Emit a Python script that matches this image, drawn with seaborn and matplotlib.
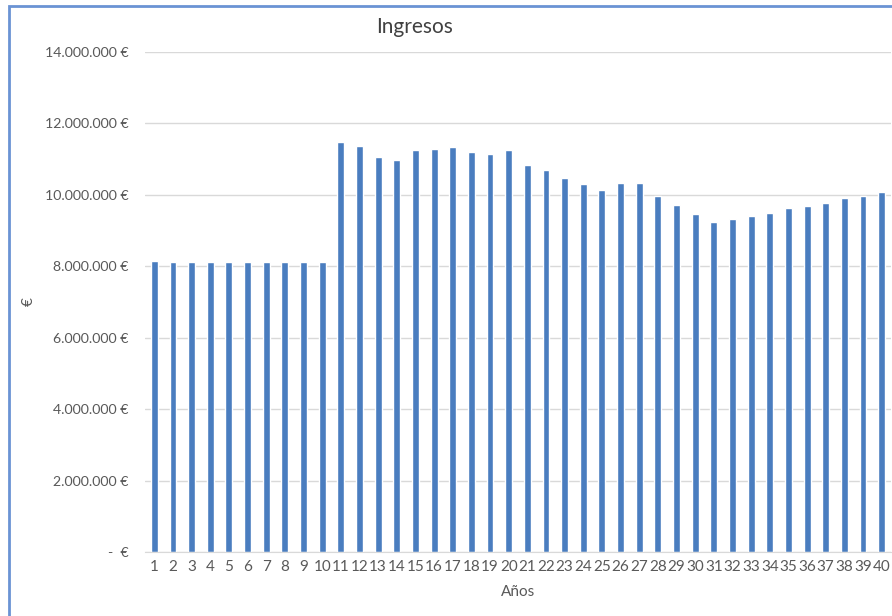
import numpy as np
import pandas as pd
import matplotlib
matplotlib.use('Agg')
import matplotlib.pyplot as plt
import seaborn as sns
from matplotlib.patches import Rectangle
from matplotlib.ticker import FuncFormatter

sns.set_style('white')
plt.rcParams['font.family'] = ['Lato', 'DejaVu Sans']

# data (millions of euros)
years = list(range(1, 41))
ingresos_m = [8.15, 8.12, 8.12, 8.12, 8.12, 8.12, 8.12, 8.12, 8.12, 8.12,
              11.48, 11.37, 11.06, 10.99, 11.25, 11.28, 11.34, 11.20, 11.14, 11.25,
              10.85, 10.70, 10.47, 10.31, 10.13, 10.33, 10.33, 9.98, 9.73, 9.46,
              9.23, 9.32, 9.41, 9.49, 9.62, 9.70, 9.78, 9.90, 9.98, 10.07]
y_ticks = [0, 2e6, 4e6, 6e6, 8e6, 10e6, 12e6, 14e6]

df = pd.DataFrame({'Años': years, 'Ingresos': np.array(ingresos_m) * 1e6})

fig = plt.figure(figsize=(8.92, 6.16), dpi=100)
ax = fig.add_axes([145 / 892, 1 - 552 / 616, 746 / 892, 500 / 616])

sns.barplot(data=df, x='Años', y='Ingresos', color='#4a7dbf', width=0.37,
            saturation=1, ax=ax)

ax.set_ylim(0, 14e6)
ax.set_xlim(-0.5, 39.5)
ax.set_yticks(y_ticks)

def euro_fmt(v, pos):
    if v == 0:
        return '-  €'
    return f'{int(v):,}'.replace(',', '.') + ' €'

ax.yaxis.set_major_formatter(FuncFormatter(euro_fmt))
ax.grid(axis='y', color='#d9d9d9', linewidth=1)
ax.set_axisbelow(True)
for s in ['top', 'right', 'left']:
    ax.spines[s].set_visible(False)
ax.spines['bottom'].set_color('#d9d9d9')
ax.tick_params(axis='y', length=0, pad=12, labelsize=10.2, labelcolor='#595959')
ax.tick_params(axis='x', length=0, pad=6, labelsize=11, labelcolor='#595959')
ax.set_xlabel('Años', fontsize=11, color='#595959', labelpad=8)
ax.set_ylabel('€', fontsize=11, color='#595959', labelpad=6)

fig.text(415 / 892, 1 - 27 / 616, 'Ingresos', fontsize=15, color='#404040',
         ha='center', va='center')

# chart frame (cropped at right and bottom)
fig.patches.append(Rectangle((8.5 / 892, -0.1), 1.2, 1 - 5.5 / 616 + 0.1,
                             transform=fig.transFigure, fill=False,
                             edgecolor='#6a93d4', linewidth=2))

fig.savefig('out.png', dpi=100)
